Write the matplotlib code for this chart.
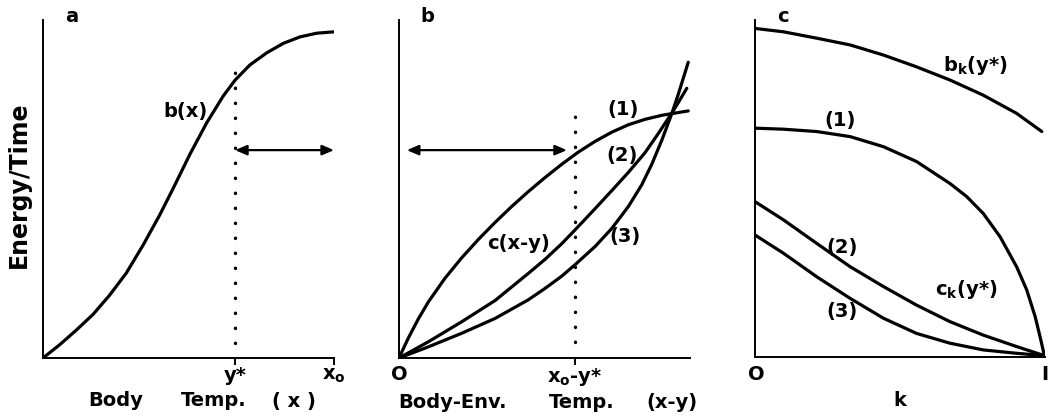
import matplotlib
matplotlib.use("Agg")
import matplotlib.pyplot as plt

# ---------------- data (normalized axis units) ----------------
# panel a: b(x)
a_x = [0.0, 0.057, 0.115, 0.172, 0.229, 0.286, 0.344, 0.401, 0.448, 0.505, 0.562,
       0.620, 0.660, 0.711, 0.769, 0.826, 0.883, 0.941, 1.0]
a_b = [0.0, 0.039, 0.083, 0.129, 0.186, 0.251, 0.334, 0.423, 0.503, 0.603, 0.695,
       0.776, 0.822, 0.867, 0.903, 0.931, 0.950, 0.961, 0.965]
a_ystar = 0.66
a_x0 = 1.0
a_dot_range = [0.044, 0.876]
a_arrow_y = 0.615

# panel b: c(x-y), three shapes
b1_x = [0.0, 0.032, 0.066, 0.101, 0.158, 0.215, 0.273, 0.330, 0.387, 0.444, 0.502,
        0.559, 0.616, 0.674, 0.731, 0.788, 0.845, 0.903, 0.937, 0.994]
b1_y = [0.0, 0.059, 0.115, 0.166, 0.236, 0.296, 0.351, 0.401, 0.448, 0.492, 0.534,
        0.573, 0.609, 0.641, 0.668, 0.690, 0.706, 0.718, 0.723, 0.731]
b2_x = [0.0, 0.101, 0.215, 0.330, 0.444, 0.502, 0.559, 0.605, 0.674, 0.731, 0.788,
        0.845, 0.891, 0.937, 0.960, 0.989]
b2_y = [0.0, 0.048, 0.107, 0.170, 0.250, 0.292, 0.338, 0.379, 0.442, 0.495, 0.549,
        0.607, 0.664, 0.724, 0.756, 0.798]
b3_x = [0.0, 0.101, 0.215, 0.330, 0.444, 0.502, 0.559, 0.605, 0.674, 0.731, 0.788,
        0.834, 0.868, 0.903, 0.937, 0.960, 0.994]
b3_y = [0.0, 0.033, 0.073, 0.117, 0.172, 0.206, 0.242, 0.276, 0.330, 0.383, 0.448,
        0.512, 0.572, 0.644, 0.722, 0.781, 0.875]
b_tick = 0.605
b_dot_range = [0.047, 0.737]
b_arrow = [0.027, 0.577]
b_arrow_y = 0.615

# panel c: b_k(y*) and c_k(y*) for shapes (1)-(3)
c_bk_k = [0.0, 0.098, 0.213, 0.328, 0.443, 0.557, 0.672, 0.787, 0.902, 0.989]
c_bk = [0.975, 0.965, 0.946, 0.926, 0.896, 0.861, 0.822, 0.777, 0.723, 0.669]
c1_k = [0.0, 0.098, 0.213, 0.328, 0.443, 0.557, 0.672, 0.730, 0.787, 0.845, 0.902,
        0.937, 0.966, 0.983, 0.998]
c1_y = [0.679, 0.676, 0.669, 0.654, 0.624, 0.580, 0.515, 0.476, 0.426, 0.357, 0.268,
        0.199, 0.120, 0.060, 0.004]
c23_k = [0.0, 0.098, 0.213, 0.328, 0.443, 0.557, 0.672, 0.787, 0.902, 0.998]
c2_y = [0.461, 0.407, 0.337, 0.268, 0.209, 0.154, 0.105, 0.065, 0.031, 0.004]
c3_y = [0.362, 0.308, 0.238, 0.174, 0.115, 0.070, 0.041, 0.021, 0.011, 0.004]

# ---------------- figure ----------------
W, H = 1055, 417
fig = plt.figure(figsize=(W / 100, H / 100), dpi=100)
FS = 14
TXT = dict(fontsize=FS, fontweight="bold", color="black", family="DejaVu Sans")
CLW = 2.3
ALW = 1.4


def make_ax(left, right, top, bottom):
    ax = fig.add_axes([left / W, (H - bottom) / H, (right - left) / W, (bottom - top) / H])
    ax.set_xlim(0, 1)
    ax.set_ylim(0, 1)
    for s in ("top", "right"):
        ax.spines[s].set_visible(False)
    for s in ("left", "bottom"):
        ax.spines[s].set_linewidth(ALW)
    ax.set_yticks([])
    ax.patch.set_alpha(0)
    return ax


def dotted(ax, x, yr):
    ax.plot([x, x], yr, color="black", lw=2.4, linestyle=(0, (0.1, 4.4)),
            dash_capstyle="round")


def arrow(ax, x0, x1, y):
    ax.annotate("", xy=(x1, y), xytext=(x0, y),
                arrowprops=dict(arrowstyle="<|-|>,head_length=0.7,head_width=0.3",
                                color="black", lw=1.6, shrinkA=0, shrinkB=0))


def curve(ax, x, y):
    ax.plot(x, y, color="black", lw=CLW, solid_joinstyle="round", solid_capstyle="round")


def ftext(px, py, s, **kw):
    fig.text(px / W, 1 - py / H, s, ha="center", va="center", **TXT, **kw)


# panel a
ax = make_ax(43, 334, 20, 358)
curve(ax, a_x, a_b)
dotted(ax, a_ystar, a_dot_range)
arrow(ax, a_ystar, a_x0, a_arrow_y)
ax.set_xticks([a_ystar, a_x0])
ax.set_xticklabels(["y*", r"x$_\mathregular{o}$"], **TXT)
ax.tick_params(axis="x", length=5, width=1.4, pad=1)
ftext(72, 17, "a")
ax.text(0.49, 0.73, "b(x)", ha="center", va="center", **TXT)
ftext(116, 401, "Body")
ftext(214, 401, "Temp.")
ftext(294, 401, "( x )")
fig.text(19 / W, 1 - 185 / H, "Energy/Time", rotation=90, ha="center", va="center",
         fontsize=17, fontweight="bold", family="DejaVu Sans")

# panel b
ax = make_ax(399, 690, 20, 358)
curve(ax, b1_x, b1_y)
curve(ax, b2_x, b2_y)
curve(ax, b3_x, b3_y)
dotted(ax, b_tick, b_dot_range)
arrow(ax, b_arrow[0], b_arrow[1], b_arrow_y)
ax.set_xticks([b_tick])
ax.set_xticklabels([r"x$_\mathregular{o}$-y*"], **TXT)
ax.tick_params(axis="x", length=5, width=1.4, pad=1)
ftext(399, 375, "O")
ftext(427, 17, "b")
ax.text(0.77, 0.735, "(1)", ha="center", va="center", **TXT)
ax.text(0.765, 0.600, "(2)", ha="center", va="center", **TXT)
ax.text(0.777, 0.358, "(3)", ha="center", va="center", **TXT)
ax.text(0.41, 0.340, "c(x-y)", ha="center", va="center", **TXT)
ftext(453, 403, "Body-Env.")
ftext(582, 403, "Temp.")
ftext(672, 403, "(x-y)")

# panel c
ax = make_ax(755, 1045, 20, 357)
curve(ax, c_bk_k, c_bk)
curve(ax, c1_k, c1_y)
curve(ax, c23_k, c2_y)
curve(ax, c23_k, c3_y)
ax.set_xticks([])
ftext(756, 375, "O")
ftext(1045, 375, "I")
ftext(783, 17, "c")
ax.text(0.76, 0.866, r"b$_\mathregular{k}$(y*)", ha="center", va="center", **TXT)
ax.text(0.293, 0.703, "(1)", ha="center", va="center", **TXT)
ax.text(0.30, 0.326, "(2)", ha="center", va="center", **TXT)
ax.text(0.30, 0.134, "(3)", ha="center", va="center", **TXT)
ax.text(0.73, 0.199, r"c$_\mathregular{k}$(y*)", ha="center", va="center", **TXT)
ftext(900, 401, "k")

fig.savefig("out.png", dpi=100)
